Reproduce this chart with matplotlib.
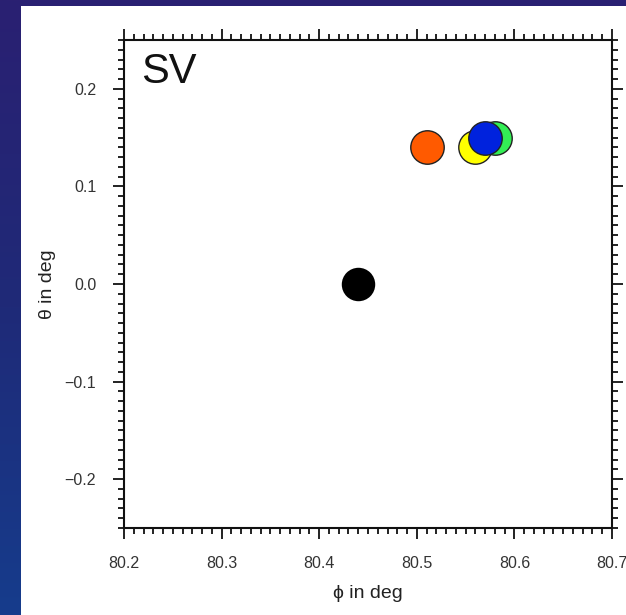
import numpy as np
import matplotlib.pyplot as plt
from matplotlib.patches import Rectangle
from matplotlib.ticker import MultipleLocator
from matplotlib.colors import LinearSegmentedColormap

plt.rcParams['font.family'] = ['Liberation Sans', 'DejaVu Sans']

# data
phi = [80.44, 80.51, 80.58, 80.56, 80.57]
theta = [0.0, 0.14, 0.15, 0.14, 0.15]
colors = ['black', '#ff5a00', '#33ee55', '#ffff00', '#0022dd']
xticks = [80.2, 80.3, 80.4, 80.5, 80.6, 80.7]
yticks = [-0.2, -0.1, 0.0, 0.1, 0.2]

fig = plt.figure(figsize=(6.26, 6.15), dpi=100)

# slide background gradient
bg = fig.add_axes([0, 0, 1, 1])
grad = np.linspace(0, 1, 256).reshape(-1, 1)
cmap = LinearSegmentedColormap.from_list('slide', ['#2a2072', '#1f2a78', '#163c8c'])
bg.imshow(grad, aspect='auto', cmap=cmap, extent=[0, 1, 0, 1], origin='upper')
bg.add_patch(Rectangle((21 / 626, 0), 1, 1 - 6 / 615, transform=bg.transAxes,
                       facecolor='white', edgecolor='none'))
bg.set_xlim(0, 1)
bg.set_ylim(0, 1)
bg.axis('off')

ax = fig.add_axes([124 / 626, 1 - 528 / 615, 488 / 626, 488 / 615])
ax.set_facecolor('white')
for i in range(len(phi)):
    ax.scatter(phi[i], theta[i], s=580, color=colors[i], edgecolor='#222222',
               linewidth=1.0 if i > 0 else 0, zorder=3 + i)

ax.set_xlim(80.2, 80.7)
ax.set_ylim(-0.25, 0.25)
ax.set_xticks(xticks)
ax.set_yticks(yticks)
ax.set_xticklabels(['%.1f' % v for v in xticks])
ax.set_yticklabels(['\u22120.%d' % abs(round(v * 10)) if v < 0 else '%.1f' % v for v in yticks])
ax.xaxis.set_minor_locator(MultipleLocator(0.01))
ax.yaxis.set_minor_locator(MultipleLocator(0.01))
ax.tick_params(which='both', direction='out', top=True, right=True,
               width=1.3, color='#111111', labelsize=11.5, labelcolor='#333333')
ax.tick_params(which='major', length=8, pad=12)
ax.tick_params(which='minor', length=4.5)
for sp in ax.spines.values():
    sp.set_linewidth(1.5)
    sp.set_color('#111111')

ax.set_xlabel('\u03d5 in deg', fontsize=14, color='#222222', labelpad=10)
ax.set_ylabel('\u03b8 in deg', fontsize=14, color='#222222', labelpad=6)
ax.text(0.035, 0.975, 'SV', transform=ax.transAxes, fontsize=30, va='top',
        ha='left', color='#111111')

fig.savefig('out.png', dpi=100)
